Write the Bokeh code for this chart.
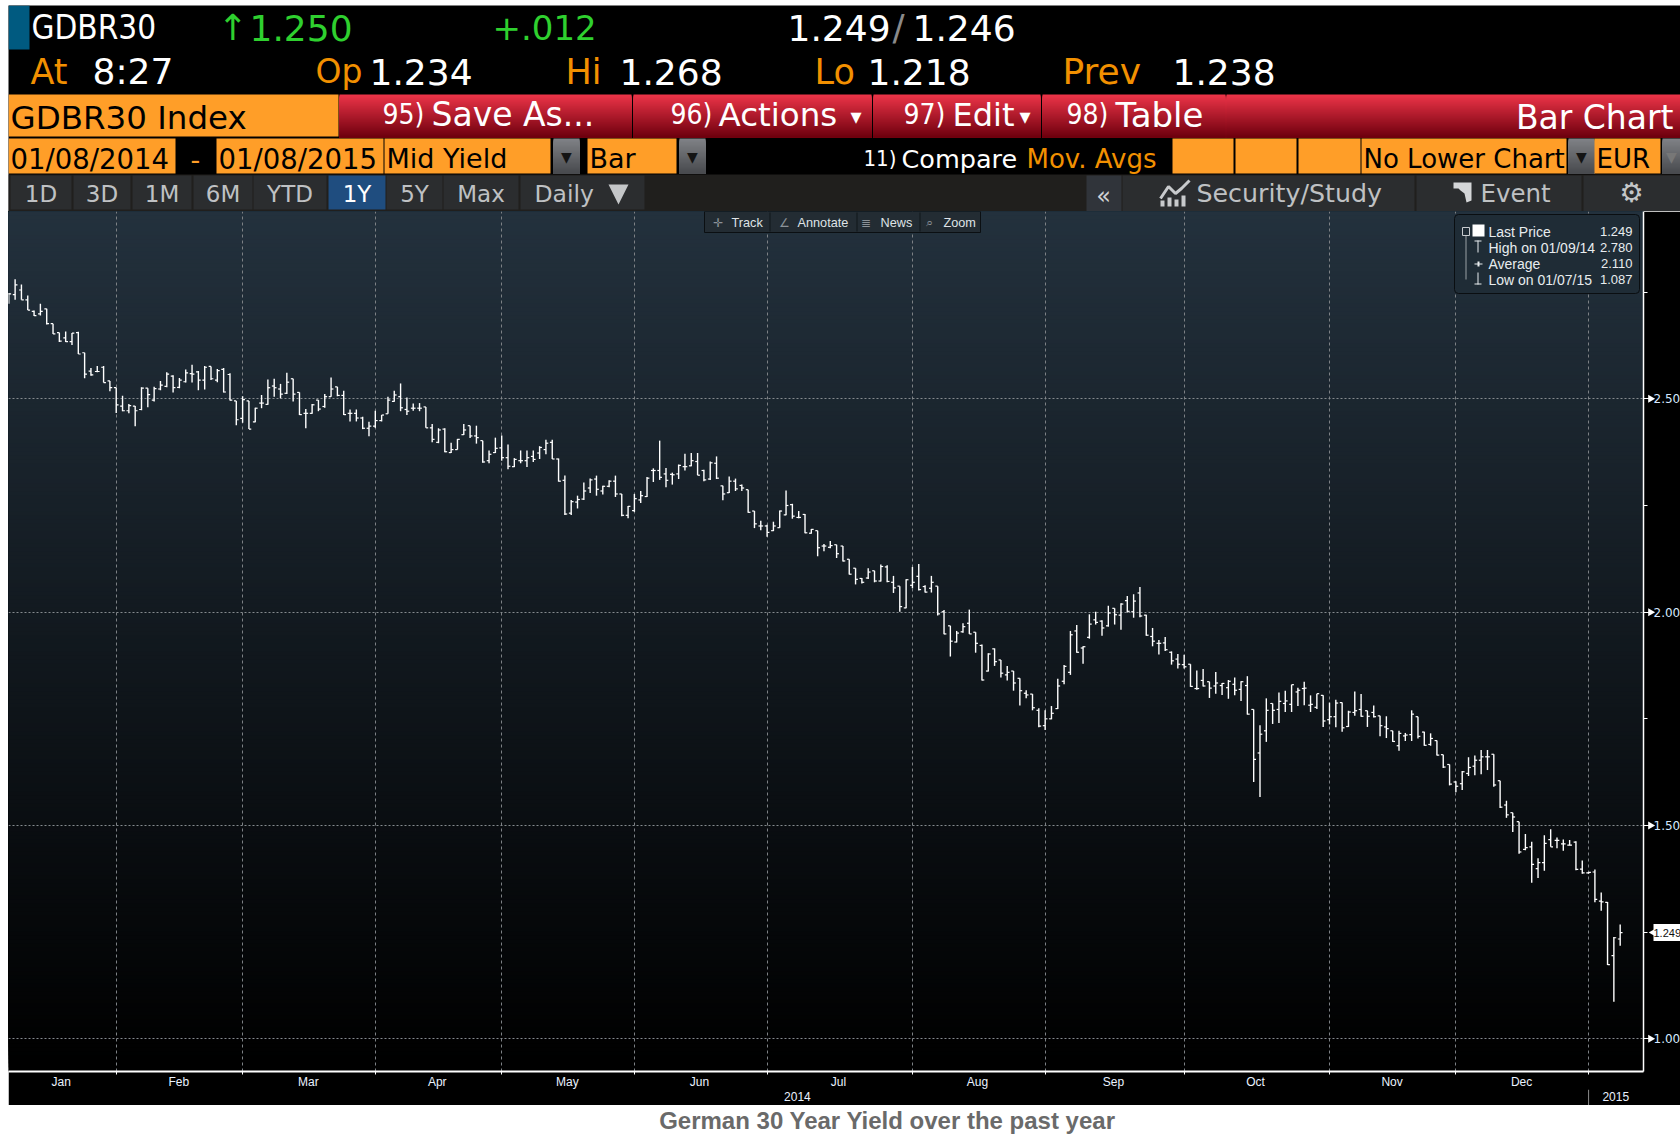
import math
from bokeh.plotting import figure
from bokeh.layouts import column, row
from bokeh.embed import file_html
from bokeh.resources import INLINE
from bokeh.core.properties import value
from bokeh.models import (Range1d, LinearAxis, FixedTicker, Grid, Label, BoxAnnotation)

# ---------------- data ----------------
highs = [
2.748,2.780,2.768,2.742,2.707,2.723,2.711,2.676,2.655,2.658,
2.654,2.657,2.608,2.572,2.577,2.577,2.542,2.526,2.507,2.488,
2.483,2.527,2.525,2.528,2.542,2.562,2.555,2.549,2.569,2.580,
2.565,2.577,2.576,2.570,2.572,2.560,2.495,2.506,2.495,2.479,
2.509,2.545,2.547,2.535,2.561,2.547,2.515,2.476,2.488,2.497,
2.511,2.550,2.528,2.519,2.475,2.475,2.458,2.446,2.472,2.462,
2.505,2.519,2.536,2.503,2.489,2.490,2.481,2.441,2.431,2.431,
2.397,2.406,2.441,2.437,2.437,2.402,2.379,2.409,2.414,2.393,
2.361,2.379,2.379,2.379,2.389,2.404,2.404,2.360,2.320,2.263,
2.273,2.304,2.313,2.320,2.296,2.309,2.320,2.277,2.249,2.277,
2.284,2.317,2.337,2.402,2.338,2.327,2.346,2.371,2.373,2.373,
2.334,2.353,2.365,2.296,2.318,2.313,2.299,2.287,2.237,2.214,
2.205,2.212,2.238,2.285,2.254,2.237,2.230,2.195,2.191,2.160,
2.167,2.158,2.155,2.124,2.103,2.080,2.103,2.097,2.112,2.110,
2.085,2.061,2.077,2.106,2.113,2.063,2.085,2.061,2.005,1.968,
1.956,1.974,2.006,1.953,1.924,1.904,1.915,1.888,1.874,1.862,
1.845,1.817,1.808,1.775,1.770,1.780,1.844,1.876,1.956,1.970,
1.920,1.995,2.001,1.981,2.015,2.009,2.021,2.038,2.042,2.059,
1.994,1.963,1.935,1.942,1.908,1.902,1.900,1.878,1.863,1.867,
1.837,1.860,1.834,1.841,1.847,1.838,1.850,1.772,1.735,1.798,
1.786,1.812,1.816,1.830,1.823,1.837,1.805,1.809,1.805,1.788,
1.795,1.788,1.769,1.814,1.808,1.769,1.781,1.757,1.756,1.722,
1.722,1.717,1.770,1.755,1.720,1.716,1.699,1.666,1.643,1.604,
1.628,1.660,1.664,1.677,1.677,1.667,1.605,1.558,1.530,1.509,
1.480,1.462,1.423,1.477,1.491,1.472,1.467,1.466,1.463,1.418,
1.391,1.397,1.343,1.321,1.239,1.268]
lows = [
2.723,2.732,2.732,2.708,2.694,2.695,2.674,2.652,2.633,2.633,
2.626,2.605,2.548,2.554,2.562,2.538,2.518,2.467,2.471,2.466,
2.436,2.473,2.480,2.494,2.520,2.527,2.515,2.525,2.538,2.538,
2.520,2.522,2.544,2.539,2.515,2.496,2.438,2.444,2.429,2.445,
2.478,2.486,2.505,2.501,2.511,2.494,2.462,2.431,2.465,2.471,
2.479,2.505,2.506,2.462,2.447,2.447,2.429,2.412,2.432,2.447,
2.465,2.493,2.471,2.462,2.472,2.471,2.432,2.398,2.396,2.375,
2.373,2.381,2.415,2.408,2.395,2.350,2.349,2.373,2.355,2.335,
2.340,2.349,2.340,2.352,2.359,2.370,2.359,2.306,2.228,2.228,
2.243,2.263,2.279,2.273,2.276,2.293,2.270,2.225,2.220,2.235,
2.256,2.270,2.305,2.310,2.293,2.299,2.312,2.332,2.342,2.321,
2.307,2.310,2.312,2.262,2.279,2.284,2.284,2.233,2.197,2.192,
2.177,2.190,2.198,2.227,2.219,2.220,2.185,2.184,2.131,2.143,
2.150,2.127,2.119,2.088,2.065,2.067,2.078,2.070,2.072,2.070,
2.045,2.001,2.009,2.056,2.051,2.046,2.046,1.992,1.948,1.896,
1.929,1.952,1.949,1.905,1.840,1.861,1.874,1.847,1.840,1.816,
1.781,1.798,1.770,1.730,1.724,1.749,1.773,1.831,1.853,1.905,
1.879,1.938,1.971,1.945,1.966,1.971,1.959,1.999,1.987,1.988,
1.945,1.920,1.901,1.909,1.877,1.868,1.868,1.825,1.818,1.826,
1.799,1.809,1.806,1.797,1.805,1.792,1.760,1.602,1.567,1.696,
1.738,1.740,1.766,1.766,1.780,1.782,1.766,1.773,1.731,1.737,
1.730,1.720,1.731,1.757,1.755,1.731,1.753,1.709,1.705,1.696,
1.675,1.698,1.698,1.704,1.687,1.687,1.664,1.635,1.594,1.578,
1.583,1.616,1.618,1.620,1.630,1.591,1.541,1.518,1.485,1.434,
1.442,1.366,1.377,1.394,1.450,1.447,1.441,1.453,1.395,1.387,
1.387,1.320,1.300,1.173,1.087,1.218]
opens = [
2.746,2.744,2.755,2.732,2.705,2.699,2.711,2.676,2.655,2.643,
2.634,2.655,2.608,2.565,2.564,2.574,2.542,2.526,2.483,2.472,
2.483,2.475,2.525,2.497,2.523,2.529,2.553,2.527,2.540,2.559,
2.563,2.544,2.576,2.544,2.569,2.557,2.495,2.454,2.495,2.446,
2.490,2.487,2.530,2.523,2.513,2.547,2.515,2.466,2.466,2.497,
2.482,2.505,2.528,2.508,2.466,2.466,2.455,2.431,2.436,2.449,
2.465,2.494,2.505,2.475,2.478,2.478,2.481,2.432,2.398,2.429,
2.374,2.381,2.416,2.437,2.413,2.402,2.355,2.374,2.385,2.362,
2.341,2.355,2.355,2.365,2.373,2.381,2.398,2.359,2.309,2.232,
2.258,2.265,2.291,2.312,2.284,2.295,2.307,2.277,2.227,2.238,
2.263,2.271,2.332,2.332,2.324,2.323,2.324,2.341,2.343,2.353,
2.332,2.312,2.349,2.296,2.280,2.307,2.297,2.287,2.237,2.202,
2.202,2.191,2.198,2.228,2.252,2.222,2.229,2.185,2.191,2.155,
2.152,2.158,2.155,2.124,2.103,2.079,2.080,2.097,2.073,2.106,
2.070,2.061,2.010,2.063,2.084,2.060,2.056,2.061,2.001,1.968,
1.930,1.954,1.974,1.953,1.922,1.862,1.914,1.888,1.853,1.862,
1.845,1.810,1.808,1.770,1.734,1.750,1.774,1.838,1.859,1.956,
1.916,1.941,1.982,1.979,1.968,2.009,1.993,2.027,2.001,2.045,
1.993,1.943,1.927,1.928,1.906,1.890,1.877,1.878,1.821,1.840,
1.837,1.827,1.828,1.823,1.831,1.819,1.828,1.772,1.670,1.722,
1.786,1.772,1.786,1.784,1.813,1.821,1.782,1.777,1.805,1.748,
1.755,1.788,1.732,1.765,1.772,1.769,1.765,1.757,1.731,1.722,
1.687,1.710,1.713,1.755,1.719,1.690,1.699,1.666,1.643,1.602,
1.598,1.622,1.639,1.653,1.661,1.667,1.605,1.548,1.530,1.509,
1.444,1.450,1.399,1.413,1.467,1.465,1.457,1.454,1.461,1.398,
1.389,1.391,1.323,1.320,1.195,1.234]
closes = [
2.746,2.767,2.732,2.708,2.695,2.705,2.676,2.652,2.635,2.634,
2.654,2.605,2.558,2.556,2.564,2.538,2.526,2.486,2.472,2.484,
2.472,2.525,2.510,2.524,2.532,2.558,2.526,2.544,2.561,2.558,
2.544,2.574,2.547,2.566,2.516,2.497,2.451,2.498,2.429,2.478,
2.490,2.526,2.526,2.511,2.539,2.511,2.463,2.466,2.486,2.476,
2.505,2.523,2.508,2.463,2.466,2.455,2.431,2.436,2.449,2.462,
2.497,2.509,2.479,2.471,2.478,2.478,2.432,2.405,2.427,2.376,
2.381,2.405,2.427,2.413,2.409,2.352,2.370,2.384,2.362,2.342,
2.358,2.355,2.362,2.358,2.386,2.396,2.359,2.307,2.230,2.259,
2.264,2.284,2.310,2.288,2.295,2.307,2.277,2.227,2.248,2.266,
2.273,2.314,2.332,2.316,2.309,2.322,2.344,2.341,2.355,2.321,
2.310,2.350,2.314,2.277,2.307,2.289,2.291,2.234,2.207,2.202,
2.187,2.202,2.237,2.250,2.225,2.222,2.186,2.194,2.151,2.155,
2.156,2.137,2.120,2.089,2.077,2.070,2.094,2.073,2.107,2.072,
2.057,2.013,2.076,2.070,2.053,2.047,2.070,1.996,1.949,1.932,
1.951,1.966,1.949,1.927,1.841,1.902,1.884,1.857,1.859,1.834,
1.816,1.806,1.776,1.733,1.750,1.763,1.827,1.873,1.947,1.906,
1.919,1.972,1.976,1.963,1.998,1.994,2.019,2.002,2.026,1.991,
1.946,1.932,1.927,1.912,1.886,1.878,1.872,1.826,1.821,1.827,
1.822,1.834,1.833,1.838,1.817,1.837,1.761,1.655,1.714,1.770,
1.770,1.791,1.792,1.830,1.817,1.822,1.784,1.809,1.745,1.755,
1.787,1.729,1.766,1.769,1.756,1.756,1.755,1.734,1.727,1.697,
1.716,1.712,1.761,1.709,1.688,1.704,1.665,1.637,1.597,1.592,
1.626,1.636,1.653,1.661,1.661,1.595,1.543,1.525,1.520,1.438,
1.448,1.409,1.413,1.458,1.450,1.465,1.457,1.454,1.397,1.389,
1.390,1.327,1.321,1.174,1.237,1.249]

month_start_bars = [17,37,58,78,99,120,143,164,186,209,229,250]
month_label_bars = [8.3,26.9,47.4,67.8,88.4,109.3,131.3,153.3,174.8,197.3,218.9,239.4]
month_labels = ["Jan","Feb","Mar","Apr","May","Jun","Jul","Aug","Sep","Oct","Nov","Dec"]
year_label_bars = [124.8,254.3]
year_labels = ["2014","2015"]
year_divider_bars = [250]
major_yields = [1.0,1.5,2.0,2.5]
minor_yields = [1.25,1.75,2.25,2.75]
legend_rows = [("Last Price","1.249"),("High on 01/09/14","2.780"),("Average","2.110"),("Low on 01/07/15","1.087")]
period_buttons = ["1D","3D","1M","6M","YTD","1Y","5Y","Max"]
title_text = "German 30 Year Yield over the past year"

# ---------------- colours / fonts ----------------
ORANGE="#ff9e28"; AMBER="#f29000"; GREEN="#2fd02f"; WHITE="#ffffff"
DJ="DejaVu Sans"; DC="DejaVu Sans Condensed"

def mix(a,b,t):
    return "#%02x%02x%02x"%tuple(int(round(a[i]+(b[i]-a[i])*t)) for i in range(3))

# ---------------- header: page pixels ----------------
h = figure(frame_width=1672,frame_height=206,x_range=Range1d(8,1680),y_range=Range1d(211,5),frame_align=False,
           output_backend="svg",toolbar_location=None,x_axis_location=None,y_axis_location=None,
           min_border=0,background_fill_color="black",border_fill_color="black",outline_line_color=None)
h.grid.visible=False

def rect(x0,x1,y0,y1,color):
    h.quad(left=[x0],right=[x1],top=[y0],bottom=[y1],fill_color=color,line_color=None)

def grad(x0,x1,y0,y1,c0,c1):
    n=y1-y0
    ls=[x0]*n; rs=[x1]*n; ts=[y0+i for i in range(n)]; bs=[y1]*n
    cs=[mix(c0,c1,i/max(n-1,1)) for i in range(n)]
    h.quad(left=ls,right=rs,top=ts,bottom=bs,fill_color=cs,line_color=None)

def txt(s,x,y,color=WHITE,size=36,font=DJ,align="left",style="normal"):
    h.text(x=[x],y=[y],text=[s],text_color=color,text_font=value(font),text_font_size=value(f"{size}px"),
           text_align=align,text_baseline="middle",text_font_style=style)

rect(8,29,5,49,"#005a80")
txt("GDBR30",31,27,WHITE,33,DC)
txt("↑",217,27,GREEN,36)
txt("1.250",249,27,GREEN,36)
txt("+.012",492,27,GREEN,34)
txt("1.249",787,27,WHITE,36)
txt("/",892,27,"#8a8a8a",36)
txt("1.246",912,27,WHITE,36)
txt("At",30,71,AMBER,35); txt("8:27",92,71,WHITE,36)
txt("Op",315,71,AMBER,33); txt("1.234",369,71,WHITE,36)
txt("Hi",565,71,AMBER,35); txt("1.268",619,71,WHITE,36)
txt("Lo",814,71,AMBER,35); txt("1.218",867,71,WHITE,36)
txt("Prev",1062,71,AMBER,36); txt("1.238",1172,71,WHITE,36)

# row 3
rect(8,338,94,136,ORANGE)
txt("GDBR30 Index",10,117,"#000000",32.5)
RT=(236,52,72); RB=(110,0,14)
grad(339,631,94,137,RT,RB)
grad(633,871,94,137,RT,RB)
grad(873,1040,94,137,RT,RB)
grad(1042,1225,94,137,RT,RB)
grad(1226,1680,94,137,RT,RB)
txt("95)",382,114,WHITE,28,DC); txt("Save As...",431,114,WHITE,33)
txt("96)",670,114,WHITE,28,DC); txt("Actions",718,114,WHITE,32.5); txt("▾",850,116,WHITE,22)
txt("97)",903,114,WHITE,28,DC); txt("Edit",952,114,WHITE,32); txt("▾",1019,116,WHITE,22)
txt("98)",1066,114,WHITE,28,DC); txt("Table",1115,114,WHITE,34)
txt("Bar Chart",1673,117,WHITE,33,DJ,"right")

# row 4
rect(8,175,138,173,ORANGE); txt("01/08/2014",10,158,"#000000",27.5)
txt("-",190,158,ORANGE,27)
rect(216,383,138,173,ORANGE); txt("01/08/2015",218,158,"#000000",27.5)
rect(384,550,138,173,ORANGE); txt("Mid Yield",386,158,"#000000",27)
rect(587,676,138,173,ORANGE); txt("Bar",589,158,"#000000",27)
for x0 in (553,679,1568,1662):
    grad(x0,x0+26 if x0!=1662 else 1680,138,173,(128,130,134),(72,74,78))
    txt("▼",x0+13 if x0!=1662 else x0+9,156,"#141414" if x0!=1662 else "#777777",14,DJ,"center")
txt("11)",863,158,WHITE,22,DC); txt("Compare",901,158,WHITE,25.5)
txt("Mov. Avgs",1026,158,AMBER,26)
rect(1172,1233,138,173,ORANGE); rect(1235,1296,138,173,ORANGE); rect(1298,1360,138,173,ORANGE)
rect(1361,1566,138,173,ORANGE); txt("No Lower Chart",1363,158,"#000000",26)
rect(1594,1660,138,173,ORANGE); txt("EUR",1596,158,"#000000",26)

# row 5
rect(8,1680,174,211,"#201f1d")
BTN=[(10,71),(73,130),(132,191),(193,252),(253,326),(328,385),(386,442),(443,518)]
for (x0,x1),s_ in zip(BTN,period_buttons):
    sel = s_=="1Y"
    rect(x0,x1,175,209,"#1f4d7f" if sel else "#2b2d2f")
    txt(s_,(x0+x1)/2,193,WHITE if sel else "#bfc1c3",23,DJ,"center")
rect(520,644,175,209,"#2b2d2f")
txt("Daily",534,193,"#bfc1c3",23.5)
h.patch(x=[608,628,618],y=[184,184,204],fill_color="#c4c6c8",line_color=None)
rect(1086,1121,175,211,"#30343a")
txt("«",1103,195,"#d0d2d4",24,DJ,"center")
rect(1122,1414,175,211,"#2b2d2f"); rect(1416,1581,175,211,"#2b2d2f"); rect(1583,1680,175,211,"#2b2d2f")
h.line(x=[1160,1168,1175,1181,1189],y=[198,186,193,188,180],line_color="#c8cacc",line_width=3)
h.quad(left=[1160,1167,1174,1181],right=[1164,1171,1178,1185],top=[200,197,199,195],bottom=[206,206,206,206],
       fill_color="#c8cacc",line_color=None)
txt("Security/Study",1196,193,"#bfc1c3",25.3)
h.patch(x=[1453,1471,1471,1466,1464,1460,1458,1453],y=[182,182,200,202,193,190,188,188],fill_color="#d4d6d8",line_color=None)
txt("Event",1480,193,"#bfc1c3",24.5)
txt("⚙",1631,192,"#c4c6c8",27,DJ,"center")

# ---------------- chart: bars through the scales ----------------
xs=list(range(len(highs)))
p = figure(frame_width=1635,frame_height=860,frame_align=False,
           x_range=Range1d(-0.047,258.69),y_range=Range1d(0.9235,2.939),
           output_backend="svg",toolbar_location=None,x_axis_location=None,y_axis_location=None,
           min_border_left=0,min_border_top=0,min_border_right=37,min_border_bottom=34,
           background_fill_color="black",border_fill_color="black",outline_line_color=None)
p.grid.visible=False

# background gradient, each band running from its lower edge to the top of the plot
N=215
yb=[0.9235+(2.939-0.9235)*i/N for i in range(N)]
cols=[mix((0,0,0),(35,49,61),max(0,min(1,(y-0.94)/(2.939-0.94)))) for y in yb]
p.quad(left=[-0.047]*N,right=[258.69]*N,bottom=yb,top=[2.939]*N,fill_color=cols,line_color=None,level="image")

gx=Grid(dimension=0,ticker=FixedTicker(ticks=month_start_bars),grid_line_color="#7d8185",grid_line_dash="3 3",grid_line_width=1)
gy=Grid(dimension=1,ticker=FixedTicker(ticks=major_yields),grid_line_color="#858a8e",grid_line_dash="2 2",grid_line_width=1)
p.add_layout(gx); p.add_layout(gy)

tick=0.37
p.segment(x0=xs,x1=xs,y0=lows,y1=highs,line_color="white",line_width=1.4)
p.segment(x0=[x-tick for x in xs],x1=xs,y0=opens,y1=opens,line_color="white",line_width=1.2)
p.segment(x0=xs,x1=[x+tick for x in xs],y0=closes,y1=closes,line_color="white",line_width=1.2)

ay=LinearAxis(ticker=FixedTicker(ticks=major_yields,minor_ticks=minor_yields),
              major_label_overrides={v:f"{v:.2f}" for v in major_yields})
ay.axis_line_color="white"; ay.axis_line_width=1.5
ay.major_tick_line_color="white"; ay.major_tick_out=7; ay.major_tick_in=0
ay.minor_tick_line_color="white"; ay.minor_tick_out=4; ay.minor_tick_in=0
ay.major_label_text_color="#d5e8ff"; ay.major_label_text_font=DJ; ay.major_label_text_font_size="12px"
ay.major_label_standoff=3
p.add_layout(ay,"right")

ax1=LinearAxis(ticker=FixedTicker(ticks=month_start_bars),major_label_text_font_size="0px",major_label_standoff=0)
ax1.axis_line_color="white"; ax1.axis_line_width=2
ax1.major_tick_line_color="white"; ax1.major_tick_out=3; ax1.major_tick_in=0
ax1.minor_tick_line_color=None
ax1.major_label_overrides={v:"" for v in month_start_bars}
p.add_layout(ax1,"below")

ax2=LinearAxis(ticker=FixedTicker(ticks=month_label_bars),
               major_label_overrides=dict(zip(month_label_bars,month_labels)))
ax3=LinearAxis(ticker=FixedTicker(ticks=year_label_bars),
               major_label_overrides=dict(zip(year_label_bars,year_labels)))
for a in (ax2,ax3):
    a.axis_line_color=None; a.major_tick_line_color=None; a.minor_tick_line_color=None
    a.major_tick_out=0; a.major_tick_in=0
    a.major_label_text_color="#eaf2ff"; a.major_label_text_font="Liberation Sans"
    a.major_label_text_font_size="12px"; a.major_label_standoff=0
    p.add_layout(a,"below")

def sx(px): return px-8
def sy(py): return 1071-py

def box(x0,x1,y0,y1,fill,line=None,radius=0):
    p.add_layout(BoxAnnotation(left=sx(x0),right=sx(x1),top=sy(y0),bottom=sy(y1),
                 left_units="screen",right_units="screen",top_units="screen",bottom_units="screen",
                 fill_color=fill,fill_alpha=1,line_color=line,line_alpha=1 if line else 0,border_radius=radius,level="annotation"))

def lab(s,x,y,color="#dfe3e6",size=12.7,align="left",font="Liberation Sans"):
    p.add_layout(Label(x=sx(x),y=sy(y),text=s,x_units="screen",y_units="screen",text_color=color,
                 text_font=font,text_font_size=f"{size}px",text_align=align,text_baseline="middle",level="annotation"))

# chart toolbar
box(704,980,211,232,"#232c33","#0b0f12")
for xx in (769,856,919):
    box(xx,xx+1,212,231,"#11161a")
lab("✛",712,222,"#8b9298",12); lab("Track",731,222)
lab("∠",778,222,"#8b9298",12); lab("Annotate",797,222)
lab("≣",860,222,"#8b9298",12); lab("News",880,222)
lab("⌕",925,222,"#8b9298",13); lab("Zoom",943,222)

# legend
box(1454,1639,214,293,"#1f2c36","#0a0e11",4)
for i,(a,b) in enumerate(legend_rows):
    yy=231+16*i
    lab(a,1488,yy,"#e8ecef",14)
    lab(b,1632,yy,"#e8ecef",13,"right")
box(1472,1484,224,236,"#ffffff")
box(1465,1466,232,279,"#9aa0a4")
box(1462,1469,227,235,"#1f2c36","#c8ccd0")
box(1477,1478,240,252,"#e8ecef"); box(1474,1481,240,241,"#e8ecef")
box(1474,1482,263,264,"#e8ecef"); box(1477,1479,261,266,"#e8ecef")
box(1477,1478,272,284,"#e8ecef"); box(1474,1481,283,284,"#e8ecef")

# transparent strip over the right axis: tick markers and last-price tag, on the same yield scale
s = figure(frame_width=37,frame_height=860,frame_align=False,x_range=Range1d(1643,1680),y_range=p.y_range,
           output_backend="svg",toolbar_location=None,x_axis_location=None,y_axis_location=None,min_border=0,
           background_fill_alpha=0,border_fill_alpha=0,outline_line_color=None,margin=(0,0,0,-37))
s.grid.visible=False
s.scatter(x=[1647]*len(major_yields),y=major_yields,marker="triangle",angle=-math.pi/2,size=8,
          fill_color="white",line_color=None)
last=closes[-1]
s.rect(x=[1665],y=[last],width=[30],height=[17],height_units="screen",fill_color="white",line_color=None)
s.scatter(x=[1651],y=[last],marker="triangle",angle=math.pi/2,size=10,fill_color="white",line_color=None)
s.text(x=[1650],y=[last],text=[f"{last:.3f}"],text_color="#111111",text_font=value("Liberation Sans"),
       text_font_size=value("11px"),text_baseline="middle")

# transparent strip over the year row: divider between the two years, on the bar scale
g = figure(frame_width=1635,frame_height=16,frame_align=False,x_range=p.x_range,y_range=Range1d(0,1),
           output_backend="svg",toolbar_location=None,x_axis_location=None,y_axis_location=None,min_border=0,
           background_fill_alpha=0,border_fill_alpha=0,outline_line_color=None,margin=(-16,0,0,0))
g.grid.visible=False
g.segment(x0=year_divider_bars,x1=year_divider_bars,y0=[0],y1=[1],line_color="#8a8a8a",line_width=1)

# ---------------- caption ----------------
f = figure(frame_width=1672,frame_height=34,x_range=Range1d(8,1680),y_range=Range1d(1139,1105),frame_align=False,
           output_backend="svg",toolbar_location=None,x_axis_location=None,y_axis_location=None,
           min_border=0,background_fill_color="white",border_fill_color="white",outline_line_color=None)
f.grid.visible=False
f.text(x=[887],y=[1120],text=[title_text],text_color="#6a6a6a",text_font=value("Liberation Sans"),
       text_font_size=value("24px"),text_font_style="bold",text_align="center",text_baseline="middle")

page=column(h,row(p,s,spacing=0),g,f,spacing=0,margin=(5,0,0,8))
open("out.html","w").write(file_html(page,INLINE))
